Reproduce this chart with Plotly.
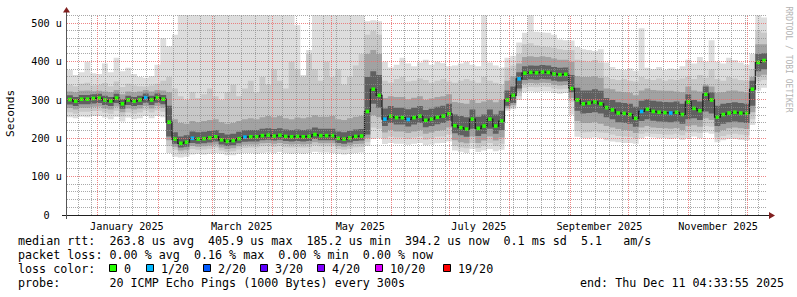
import math
import plotly.graph_objects as go
import pandas as pd

# ---------------- data (values in microseconds) ----------------
START = pd.Timestamp("2024-12-16 04:33:55")
END = pd.Timestamp("2025-12-11 04:33:55")
STEP_DAYS = 3  # one value per 3-day block, 120 blocks

median = [301, 297, 302, 302, 304, 305, 300, 297, 305, 290, 300, 297, 300, 306, 300, 306, 302,
          242,
          198, 187, 190, 200, 198, 199, 201, 204, 196, 192, 194, 199, 203, 204, 204, 207, 208, 206,
          208, 205, 204, 205, 204, 205, 210, 207, 207, 207, 200, 198, 201, 205, 206,
          270, 328, 312,
          250, 258, 254, 254, 249, 254, 258, 247, 250, 255, 258, 264,
          233, 228, 224, 250, 226, 232, 250, 232, 245,
          300, 312, 355,
          370, 372, 371, 373, 372, 368, 366, 367, 330,
          300, 290, 292, 295, 290, 280, 274, 266, 265, 262, 252, 270, 276, 270, 268,
          267, 266, 268, 262, 295, 278, 272, 315, 300, 255, 262, 266, 268, 266, 265, 328,
          398, 403]

loss = [0] * 120
for _i in (13, 21, 30, 54, 58, 77, 98, 103):
    loss[_i] = 1

smoke_top1 = [378, 365, 372, 400, 370, 368, 395, 372, 410, 375, 384, 368, 360, 358, 362, 392, 461,
              440,
              470, 600, 600, 600, 600, 600, 600, 600, 600, 600, 600, 600, 600, 600, 600, 600, 600, 600,
              600, 600, 600, 495, 365, 430, 600, 600, 600, 600, 600, 600, 600, 600, 600,
              505, 508, 505,
              400, 385, 392, 410, 395, 388, 398, 405, 392, 400, 396, 388,
              390, 395, 400, 392, 388, 521, 398, 390, 385,
              410, 415, 450,
              475, 521, 478, 476, 475, 470, 458, 456, 455,
              438, 432, 430, 428, 432, 398, 386, 380, 378, 382, 376, 487, 384, 380, 386,
              378, 382, 380, 388, 405, 395, 412, 400, 456, 400, 395, 410, 404, 398, 392, 420,
              521, 515]
smoke_top2 = [340, 336, 342, 345, 338, 340, 344, 336, 348, 334, 342, 338, 336, 335, 338, 342, 350,
              360,
              330, 310, 300, 320, 305, 315, 330, 310, 300, 320, 340, 310, 330, 350, 320, 360, 340, 380,
              350, 330, 400, 380, 360, 420, 380, 350, 400, 360, 380, 340, 360, 390, 420,
              470, 480, 470,
              350, 345, 355, 360, 348, 350, 356, 352, 345, 350, 355, 348,
              345, 350, 355, 350, 345, 360, 350, 345, 340,
              385, 390, 420,
              445, 448, 442, 440, 438, 436, 432, 430, 430,
              405, 402, 400, 404, 398, 360, 355, 352, 355, 350, 348, 360, 355, 352, 356,
              350, 354, 352, 356, 360, 355, 365, 358, 380, 355, 350, 360, 356, 352, 350, 380,
              480, 475]
smoke_top3 = [322, 320, 324, 325, 323, 324, 322, 320, 326, 315, 322, 320, 322, 326, 322, 326, 325,
              320,
              250, 240, 238, 245, 242, 245, 248, 250, 242, 238, 240, 245, 250, 252, 250, 255, 258, 255,
              258, 252, 250, 254, 252, 255, 260, 256, 256, 258, 250, 248, 252, 256, 258,
              420, 430, 420,
              305, 310, 308, 308, 302, 306, 310, 300, 304, 308, 310, 315,
              295, 292, 290, 300, 292, 296, 300, 294, 300,
              350, 362, 395,
              412, 414, 412, 414, 412, 408, 405, 405, 400,
              362, 360, 360, 362, 358, 330, 328, 322, 320, 318, 312, 325, 330, 326, 325,
              324, 324, 322, 320, 335, 325, 322, 340, 335, 318, 320, 324, 325, 322, 320, 360,
              445, 445]
smoke_top4 = [312, 308, 313, 313, 315, 316, 311, 308, 316, 302, 311, 308, 311, 317, 311, 317, 313,
              285,
              216, 205, 208, 218, 216, 217, 219, 222, 214, 210, 212, 217, 221, 222, 222, 225, 226, 224,
              226, 223, 222, 223, 222, 223, 228, 225, 225, 225, 218, 216, 219, 223, 224,
              360, 375, 365,
              278, 284, 280, 280, 276, 280, 284, 274, 277, 282, 285, 290,
              262, 258, 255, 275, 256, 262, 275, 262, 272,
              325, 335, 372,
              388, 390, 389, 391, 390, 386, 384, 385, 365,
              332, 325, 325, 328, 324, 305, 300, 294, 292, 290, 282, 298, 302, 298, 296,
              295, 294, 296, 290, 315, 300, 296, 335, 320, 285, 290, 292, 294, 292, 290, 350,
              420, 422]
smoke_bot4 = [288, 284, 289, 289, 291, 292, 287, 284, 292, 277, 287, 284, 287, 293, 287, 293, 289,
              205,
              186, 176, 178, 188, 186, 187, 189, 192, 184, 180, 182, 187, 191, 192, 192, 195, 196, 194,
              196, 193, 192, 193, 192, 193, 198, 195, 195, 195, 188, 186, 189, 193, 194,
              210, 290, 280,
              232, 240, 236, 236, 231, 236, 240, 229, 232, 237, 240, 246,
              213, 208, 204, 225, 206, 212, 225, 212, 222,
              285, 292, 330,
              352, 354, 353, 355, 354, 350, 348, 349, 320,
              272, 265, 266, 268, 265, 255, 250, 242, 240, 238, 230, 245, 250, 246, 244,
              243, 242, 244, 238, 250, 252, 248, 270, 265, 232, 238, 242, 244, 242, 240, 285,
              375, 380]
smoke_bot3 = [279, 275, 280, 280, 282, 283, 278, 275, 283, 268, 278, 275, 278, 284, 278, 284, 280,
              195,
              178, 168, 170, 180, 178, 179, 181, 184, 176, 172, 174, 179, 183, 184, 184, 187, 188, 186,
              188, 185, 184, 185, 184, 185, 190, 187, 187, 187, 180, 178, 181, 185, 186,
              200, 260, 255,
              215, 222, 218, 218, 214, 218, 222, 212, 215, 220, 222, 228,
              195, 190, 187, 205, 188, 194, 205, 194, 202,
              280, 286, 322,
              342, 344, 343, 345, 344, 340, 338, 339, 305,
              245, 240, 240, 242, 238, 232, 228, 224, 222, 220, 214, 228, 232, 228, 227,
              226, 225, 227, 222, 232, 234, 230, 252, 248, 216, 222, 226, 228, 226, 224, 268,
              362, 366]
smoke_bot2 = [268, 264, 269, 269, 271, 272, 267, 264, 272, 257, 267, 264, 267, 273, 267, 273, 269,
              180,
              170, 160, 162, 172, 170, 171, 173, 176, 168, 164, 166, 171, 175, 176, 176, 179, 180, 178,
              180, 177, 176, 177, 176, 177, 182, 179, 179, 179, 172, 170, 173, 177, 178,
              190, 228, 225,
              200, 205, 202, 202, 198, 202, 205, 196, 200, 204, 205, 210,
              180, 176, 174, 188, 175, 180, 188, 180, 186,
              276, 281, 310,
              332, 334, 333, 335, 334, 330, 328, 329, 295,
              220, 215, 216, 218, 215, 214, 210, 206, 205, 204, 200, 212, 215, 212, 211,
              210, 210, 212, 208, 215, 216, 214, 232, 230, 202, 206, 210, 212, 210, 208, 250,
              348, 352]
smoke_bot1 = [255, 252, 256, 255, 258, 258, 254, 250, 256, 244, 254, 250, 252, 258, 252, 258, 255,
              162,
              152, 150, 152, 158, 160, 158, 160, 162, 160, 156, 156, 160, 162, 162, 160, 162, 163, 162,
              164, 162, 160, 162, 160, 162, 165, 163, 163, 162, 160, 158, 160, 162, 163,
              180, 198, 200,
              185, 188, 186, 186, 183, 186, 188, 182, 184, 187, 188, 192,
              168, 165, 162, 172, 164, 168, 172, 166, 170,
              272, 276, 300,
              320, 322, 321, 322, 322, 318, 316, 318, 262,
              204, 200, 200, 202, 200, 195, 192, 190, 188, 188, 186, 200, 205, 202, 200,
              200, 198, 200, 196, 200, 205, 200, 215, 212, 190, 195, 198, 198, 196, 195, 235,
              325, 332]

loss_levels = ["0", "1/20", "2/20", "3/20", "4/20", "10/20", "19/20"]
loss_colors = ["#26ff00", "#00b8ff", "#0059ff", "#5e00ff", "#7e00ff", "#dd00ff", "#ff0000"]

y_tickvals = [0, 100, 200, 300, 400, 500]
y_ticktext = ["0\u00a0\u00a0", "100 u", "200 u", "300 u", "400 u", "500 u"]
x_label_months = ["2025-01-01", "2025-03-01", "2025-05-01", "2025-07-01", "2025-09-01", "2025-11-01"]
x_label_text = ["January 2025", "March 2025", "May 2025", "July 2025", "September 2025", "November 2025"]

stats_rtt = "median rtt:  263.8 us avg  405.9 us max  185.2 us min  394.2 us now  0.1 ms sd  5.1   am/s"
stats_loss = "packet loss: 0.00 % avg  0.16 % max  0.00 % min  0.00 % now"
probe_text = "probe:       20 ICMP Echo Pings (1000 Bytes) every 300s"
end_text = "end: Thu Dec 11 04:33:55 2025"
Y_MAX = 521.6

# ---------------- geometry helpers ----------------
L, R, T, B = 67, 30, 15, 82
W, H = 797, 297
PW, PH = W - L - R, H - T - B


def px(x):
    return (x - L) / PW


def py(y):
    return (H - B - y) / PH


def snap_date(d):
    p = L + (d - START) / (END - START) * PW
    return px(math.floor(p) + 0.5)


def snap_val(v):
    p = (H - B) - v / Y_MAX * PH
    return py(math.floor(p) + 0.5)


MONO = "DejaVu Sans Mono"

n = len(median)
xe = [START + pd.Timedelta(days=STEP_DAYS * i) for i in range(n + 1)]
xc = [START + pd.Timedelta(days=STEP_DAYS * i + STEP_DAYS / 2) for i in range(n)]


def ext(a):
    return list(a) + [a[-1]]


fig = go.Figure()
levels = [
    (smoke_bot1, smoke_top1, "#dddddd"),
    (smoke_bot2, smoke_top2, "#c8c8c8"),
    (smoke_bot3, smoke_top3, "#a2a2a2"),
    (smoke_bot4, smoke_top4, "#606060"),
]
for lo, hi, col in levels:
    fig.add_trace(go.Scatter(x=xe, y=ext(lo), mode="lines", line=dict(width=0, shape="hv"),
                             showlegend=False, hoverinfo="skip"))
    fig.add_trace(go.Scatter(x=xe, y=ext(hi), mode="lines", line=dict(width=0, shape="hv"),
                             fill="tonexty", fillcolor=col, showlegend=False, hoverinfo="skip"))

fig.add_trace(go.Scatter(x=xe, y=ext(median), mode="lines",
                         line=dict(color="#202020", width=1.2, shape="hv"), showlegend=False))
fig.add_trace(go.Scatter(x=xc, y=median, mode="markers",
                         marker=dict(symbol="square", size=3.6, color=[loss_colors[v] for v in loss],
                                     line=dict(width=0)),
                         showlegend=False))

# ---------------- grid (drawn over the data, like rrdtool) ----------------
GRID = "rgba(140,140,140,0.75)"
MGRID = "rgba(235,110,110,0.85)"
DASH = "1px,1px"
shapes = []
for v in range(20, 521, 20):
    yy = snap_val(v)
    shapes.append(dict(type="line", xref="paper", yref="paper", x0=0, x1=1, y0=yy, y1=yy, layer="above",
                       line=dict(color=MGRID if v % 100 == 0 else GRID, width=1, dash=DASH)))
month_starts = list(pd.date_range("2025-01-01", END, freq="MS"))
for d in pd.date_range("2024-12-22", END, freq="7D"):
    xx = snap_date(d)
    if any(abs(xx - snap_date(m)) < 1.5 / PW for m in month_starts):
        continue
    shapes.append(dict(type="line", xref="paper", yref="paper", x0=xx, x1=xx, y0=0, y1=1, layer="above",
                       line=dict(color=GRID, width=1, dash=DASH)))
for d in month_starts:
    xx = snap_date(d)
    shapes.append(dict(type="line", xref="paper", yref="paper", x0=xx, x1=xx, y0=0, y1=1, layer="above",
                       line=dict(color=MGRID, width=1, dash="1px,1px")))

# axis lines and arrows
shapes.append(dict(type="line", xref="paper", yref="paper", x0=px(62), x1=px(771), y0=py(215.5), y1=py(215.5),
                   line=dict(color="#1f1f1f", width=1), layer="above"))
shapes.append(dict(type="line", xref="paper", yref="paper", x0=px(66.5), x1=px(66.5), y0=py(219), y1=py(11),
                   line=dict(color="#555555", width=1), layer="above"))
ARROW = "#801f1f"
shapes.append(dict(type="path", xref="paper", yref="paper", layer="above",
                   path=f"M {px(66.5)},{py(7)} L {px(63)},{py(12.5)} L {px(70)},{py(12.5)} Z",
                   fillcolor=ARROW, line=dict(color=ARROW, width=0)))
shapes.append(dict(type="path", xref="paper", yref="paper", layer="above",
                   path=f"M {px(775)},{py(215.5)} L {px(769)},{py(212)} L {px(769)},{py(219)} Z",
                   fillcolor=ARROW, line=dict(color=ARROW, width=0)))

# legend colour boxes
box_left = [109, 146, 203, 260, 317, 375, 443]
for bx, col in zip(box_left, loss_colors):
    shapes.append(dict(type="rect", xref="paper", yref="paper", x0=px(bx + 0.5), x1=px(bx + 7.5),
                       y0=py(271.5), y1=py(264.5), fillcolor=col, line=dict(color="#000000", width=1)))

# ---------------- annotations ----------------
ann = []


def text(x, y, s, size=11.7, color="#000000", anchor="left", angle=0):
    ann.append(dict(x=px(x), y=py(y), xref="paper", yref="paper", text=s.replace(" ", "\u00a0"),
                    showarrow=False, xanchor=anchor, yanchor="middle", textangle=angle,
                    font=dict(family=MONO, size=size, color=color)))


text(16, 241, stats_rtt)
text(16, 255, stats_loss)
text(16, 269, "loss color:")
for bx, lab in zip(box_left, loss_levels):
    text(bx + 13, 269, lab)
text(16, 283, probe_text)
text(578, 283, end_text)
text(10, 114, "Seconds", size=11.2, anchor="center", angle=-90)
ann.append(dict(x=px(787.5), y=py(59), xref="paper", yref="paper", text="RRDTOOL / TOBI OETIKER",
                showarrow=False, xanchor="center", yanchor="middle", textangle=90,
                font=dict(family=MONO, size=8, color="#b3b3b3")))

label_pos = [pd.Timestamp(m) + pd.Timedelta(days=15) for m in x_label_months]

fig.update_layout(
    width=W, height=H, margin=dict(l=L, r=R, t=T, b=B, pad=0),
    paper_bgcolor="#ffffff", plot_bgcolor="#ffffff",
    showlegend=False, shapes=shapes, annotations=ann,
    xaxis=dict(type="date", range=[START, END], showgrid=False, zeroline=False, showline=False,
               tickvals=label_pos, ticktext=x_label_text, ticks="", ticklabelstandoff=4,
               tickfont=dict(family=MONO, size=10.2, color="#000000")),
    yaxis=dict(range=[0, Y_MAX], showgrid=False, zeroline=False, showline=False,
               tickvals=y_tickvals, ticktext=y_ticktext, ticks="", ticklabelstandoff=4,
               tickfont=dict(family=MONO, size=10.2, color="#000000")),
)

fig.write_html("out.html")
